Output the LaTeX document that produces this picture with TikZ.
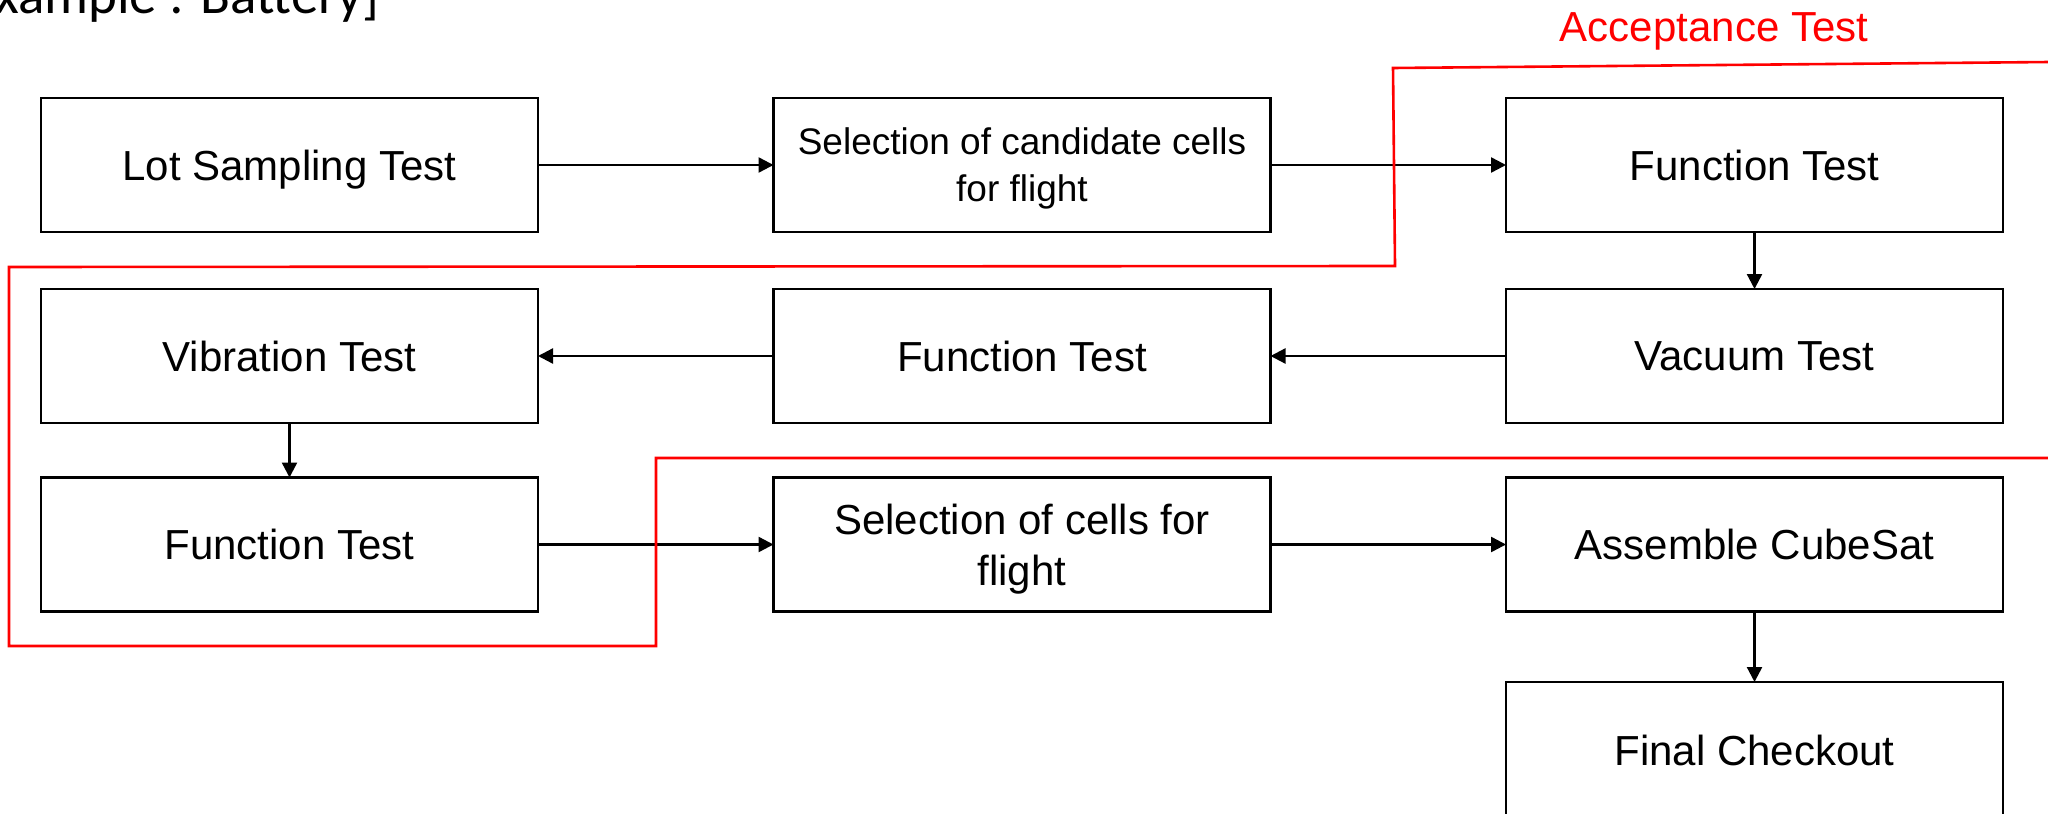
\documentclass[tikz,border=0pt]{standalone}
\usepackage{fontspec}
\setmainfont{Liberation Sans}
\newfontfamily\calfont{Carlito}
\usetikzlibrary{arrows.meta}
\begin{document}
\begin{tikzpicture}[x=0.5pt,y=-0.5pt,
  box/.style={draw=black,line width=1.25pt,minimum width=248.5pt,minimum height=67pt,inner sep=0pt,outer sep=0pt,align=center,text depth=0pt,font=\fontsize{21}{25.5}\selectfont},
  smallbox/.style={box,font=\fontsize{18.5}{23.5}\selectfont},
  flow/.style={line width=1.2pt,-{Triangle[length=7.5pt,width=7.5pt]}},
  redline/.style={draw=red,line width=1.3pt}]
\useasboundingbox (0,0) rectangle (2048,813);
\clip (0,0) rectangle (2048,813);
% title (cut at top)
\node[anchor=base east,inner sep=0pt,font=\calfont\fontsize{27.5}{33}\selectfont] (title) at (380,14) {[Example : Battery]};
\node[anchor=base,inner sep=0pt,text=red,font=\fontsize{21}{25}\selectfont] (acc) at (1714,42) {Acceptance Test};
% boxes
\node[box] (lot) at (289.5,165) {Lot Sampling Test};
\node[smallbox] (cand) at (1022,165) {Selection of candidate cells\\for flight};
\node[box] (ft1) at (1754.5,165) {Function Test};
\node[box] (vib) at (289.5,356) {Vibration Test};
\node[box] (ft2) at (1022,356) {Function Test};
\node[box] (vac) at (1754.5,356) {Vacuum Test};
\node[box] (ft3) at (289.5,544.5) {Function Test};
\node[box] (sel) at (1022,544.5) {Selection of cells for\\flight};
\node[box] (asm) at (1754.5,544.5) {Assemble CubeSat};
\node[box,minimum height=68pt] (fc) at (1754.5,750) {Final Checkout};
% connectors
\draw[flow] (lot.east) -- (cand.west);
\draw[flow] (cand.east) -- (ft1.west);
\draw[flow] (ft1.south) -- (vac.north);
\draw[flow] (vac.west) -- (ft2.east);
\draw[flow] (ft2.west) -- (vib.east);
\draw[flow] (vib.south) -- (ft3.north);
\draw[flow] (ft3.east) -- (sel.west);
\draw[flow] (sel.east) -- (asm.west);
\draw[flow] (asm.south) -- (fc.north);
% red acceptance-test boundary
\draw[redline] (2050,62) -- (1393,68) -- (1395,266) -- (9,267) -- (9,646) -- (656,646) -- (656,458) -- (2050,458);
\end{tikzpicture}
\end{document}
